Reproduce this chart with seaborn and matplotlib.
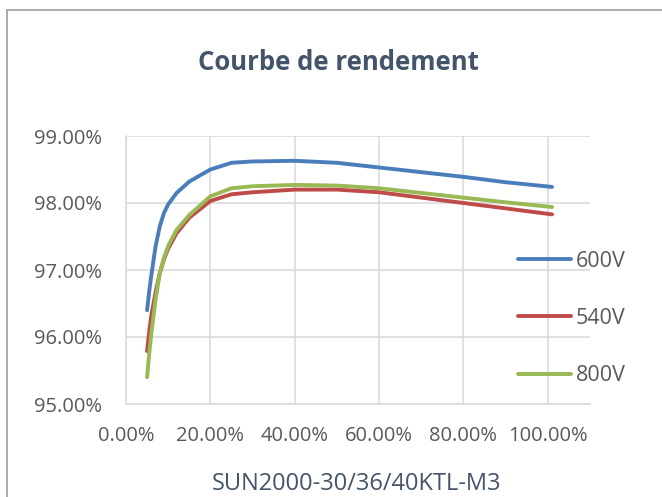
import matplotlib
matplotlib.use("Agg")
import matplotlib.pyplot as plt
from matplotlib.patches import Rectangle
from matplotlib.ticker import PercentFormatter, MultipleLocator
import pandas as pd
import seaborn as sns

# load fraction (x) and efficiency (%)
load = [0.05, 0.055, 0.06, 0.07, 0.08, 0.09, 0.10, 0.12, 0.15, 0.20, 0.25, 0.30,
        0.40, 0.50, 0.60, 0.70, 0.80, 0.90, 1.01]
eff_600 = [96.40, 96.68, 96.92, 97.35, 97.65, 97.85, 97.98, 98.15, 98.32, 98.50, 98.60, 98.62,
           98.63, 98.60, 98.53, 98.46, 98.39, 98.31, 98.24]
eff_540 = [95.79, 96.08, 96.32, 96.66, 96.95, 97.16, 97.32, 97.55, 97.78, 98.03, 98.13, 98.16,
           98.20, 98.20, 98.16, 98.08, 98.00, 97.92, 97.83]
eff_800 = [95.40, 95.75, 96.05, 96.55, 96.95, 97.18, 97.36, 97.60, 97.82, 98.10, 98.22, 98.25,
           98.27, 98.26, 98.22, 98.15, 98.08, 98.01, 97.94]
series = ["600V", "540V", "800V"]
colors = ["#4A7EBB", "#BE4B48", "#98B954"]

rows = []
for name, vals in zip(series, [eff_600, eff_540, eff_800]):
    for x, y in zip(load, vals):
        rows.append({"load": x, "eff": y, "tension": name})
df = pd.DataFrame(rows)

sns.set_style("white")
plt.rcParams["font.family"] = ["Open Sans", "DejaVu Sans"]

fig = plt.figure(figsize=(6.62, 4.97), dpi=100)
ax = fig.add_axes([126 / 662, 1 - 404 / 497, (590 - 126) / 662, (404 - 136) / 497])

sns.lineplot(data=df, x="load", y="eff", hue="tension", palette=colors,
             sort=False, linewidth=2.8, ax=ax, legend=False)
for line in ax.lines:
    line.set_solid_capstyle("round")
    line.set_solid_joinstyle("round")

ax.set_xlim(0, 1.1)
ax.set_ylim(95, 99)
ax.set_xticks([0, 0.2, 0.4, 0.6, 0.8, 1.0])
ax.yaxis.set_major_locator(MultipleLocator(1))
ax.xaxis.set_major_formatter(PercentFormatter(1.0, decimals=2))
ax.yaxis.set_major_formatter(PercentFormatter(100, decimals=2))
ax.grid(True, color="#D9D9D9", linewidth=1.1)
ax.set_axisbelow(True)
for side in ["top", "right"]:
    ax.spines[side].set_visible(False)
for side in ["left", "bottom"]:
    ax.spines[side].set_color("#D9D9D9")
    ax.spines[side].set_linewidth(1.1)
ax.tick_params(axis="x", length=0, labelsize=14.5, labelcolor="#595959", pad=16)
ax.tick_params(axis="y", length=0, labelsize=14.5, labelcolor="#595959", pad=17)
ax.set_xlabel("")
ax.set_ylabel("")

# legend on the right, no frame
handles = [plt.Line2D([], [], color=c, linewidth=2.8, solid_capstyle="round") for c in colors]
fig.legend(handles, series, loc="upper left", bbox_to_anchor=(509 / 662, 1 - 242 / 497),
           frameon=False, fontsize=15.5, handlelength=2.5, handletextpad=0.2,
           labelspacing=1.69, labelcolor="#595959", borderaxespad=0)

fig.text(338 / 662, 1 - 62 / 497, "Courbe de rendement", ha="center", va="center",
         fontsize=18.5, fontweight="bold", color="#44546A")
fig.text(357 / 662, 1 - 484 / 497, "SUN2000-30/36/40KTL-M3", ha="center", va="center",
         fontsize=17, color="#44546A")

# chart frame, cut off on the right and bottom
fig.patches.append(Rectangle((7 / 662, -0.1), 1.2, 1.1 - 10 / 497, transform=fig.transFigure,
                             fill=False, edgecolor="#A6A6A6", linewidth=1.3))

fig.savefig("out.png", dpi=100)
